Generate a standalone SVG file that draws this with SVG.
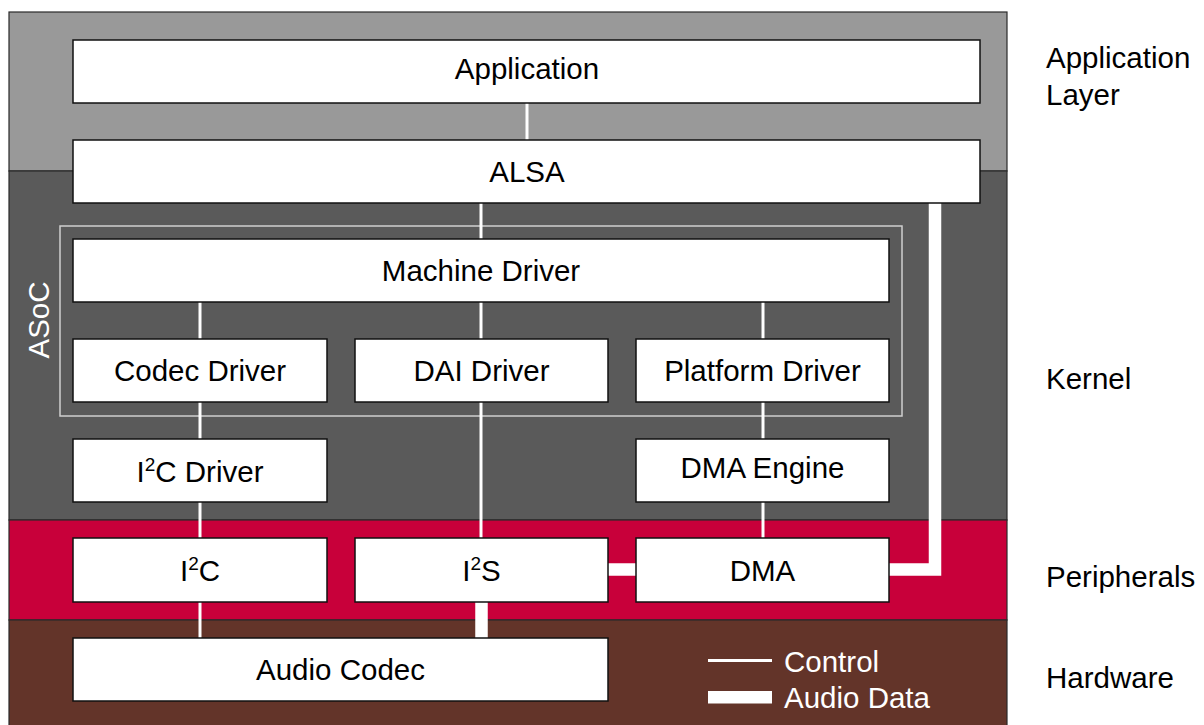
<svg xmlns="http://www.w3.org/2000/svg" width="1204" height="725" viewBox="0 0 1204 725">
<style>
.band{stroke:#2a2a2a;stroke-width:1.2}
.box{fill:#fff;stroke:#111;stroke-width:1.5}
.t{font-family:"Liberation Sans",Arial,sans-serif;font-size:29.5px;fill:#000;text-anchor:middle}
.lbl{font-family:"Liberation Sans",Arial,sans-serif;font-size:29.5px;fill:#000}
.ctl{stroke:#fff;stroke-width:3;fill:none}
.aud{stroke:#fff;stroke-width:12.5;fill:none}
.sup{font-size:19px}
</style>
<rect width="1204" height="725" fill="#fff"/>
<g id="layers">
<rect class="band" x="9" y="12" width="998" height="159" fill="#999999"/>
<rect class="band" x="9" y="171" width="998" height="349" fill="#5a5a5a"/>
<rect class="band" x="9" y="520" width="998" height="100" fill="#c8003a"/>
<rect class="band" x="9" y="620" width="998" height="110" fill="#633429"/>
</g>
<g id="asoc">
<rect x="60" y="226" width="842" height="190" fill="none" stroke="#cfcfcf" stroke-width="1.5"/>
<text class="lbl" transform="translate(49,320) rotate(-90)" text-anchor="middle" style="fill:#fff">ASoC</text>
</g>
<g id="connectors">
<line class="ctl" x1="527" y1="103" x2="527" y2="140"/>
<line class="ctl" x1="481" y1="203" x2="481" y2="239"/>
<line class="ctl" x1="200" y1="302" x2="200" y2="339"/>
<line class="ctl" x1="481" y1="302" x2="481" y2="339"/>
<line class="ctl" x1="763" y1="302" x2="763" y2="339"/>
<line class="ctl" x1="200" y1="402" x2="200" y2="439"/>
<line class="ctl" x1="200" y1="502" x2="200" y2="538"/>
<line class="ctl" x1="200" y1="602" x2="200" y2="638"/>
<line class="ctl" x1="481" y1="402" x2="481" y2="538"/>
<line class="ctl" x1="763" y1="402" x2="763" y2="439"/>
<line class="ctl" x1="763" y1="502" x2="763" y2="538"/>
<line class="aud" x1="481.5" y1="602" x2="481.5" y2="638"/>
<line class="aud" x1="608" y1="569.5" x2="636" y2="569.5"/>
<path class="aud" d="M889,569.5 H935 V203" stroke-linejoin="miter"/>
</g>
<g id="application"><rect class="box" x="73" y="40" width="907" height="63"/><text class="t" x="527" y="79">Application</text></g>
<g id="alsa"><rect class="box" x="73" y="140" width="907" height="63"/><text class="t" x="527" y="182">ALSA</text></g>
<g id="machine-driver"><rect class="box" x="73" y="239" width="816" height="63"/><text class="t" x="481" y="281">Machine Driver</text></g>
<g id="codec-driver"><rect class="box" x="73" y="339" width="254" height="63"/><text class="t" x="200" y="381">Codec Driver</text></g>
<g id="dai-driver"><rect class="box" x="355" y="339" width="253" height="63"/><text class="t" x="481.5" y="381">DAI Driver</text></g>
<g id="platform-driver"><rect class="box" x="636" y="339" width="253" height="63"/><text class="t" x="762.5" y="381">Platform Driver</text></g>
<g id="i2c-driver"><rect class="box" x="73" y="439" width="254" height="63"/><text class="t" x="200" y="482">I<tspan class="sup" dy="-11">2</tspan><tspan dy="11">C Driver</tspan></text></g>
<g id="dma-engine"><rect class="box" x="636" y="439" width="253" height="63"/><text class="t" x="762.5" y="478">DMA Engine</text></g>
<g id="i2c"><rect class="box" x="73" y="538" width="254" height="64"/><text class="t" x="200" y="581">I<tspan class="sup" dy="-11">2</tspan><tspan dy="11">C</tspan></text></g>
<g id="i2s"><rect class="box" x="355" y="538" width="253" height="64"/><text class="t" x="481.5" y="581">I<tspan class="sup" dy="-11">2</tspan><tspan dy="11">S</tspan></text></g>
<g id="dma"><rect class="box" x="636" y="538" width="253" height="64"/><text class="t" x="762.5" y="581">DMA</text></g>
<g id="audio-codec"><rect class="box" x="73" y="638" width="535" height="63"/><text class="t" x="340.5" y="680">Audio Codec</text></g>
<g id="legend">
<line class="ctl" x1="708" y1="660.5" x2="772" y2="660.5"/>
<rect x="708" y="691" width="64" height="12.5" fill="#fff"/>
<text class="lbl" x="784" y="672" style="fill:#fff">Control</text>
<text class="lbl" x="784" y="708" style="fill:#fff">Audio Data</text>
</g>
<g id="layer-labels">
<text class="lbl" x="1046" y="68">Application</text>
<text class="lbl" x="1046" y="105">Layer</text>
<text class="lbl" x="1046" y="389">Kernel</text>
<text class="lbl" x="1046" y="587">Peripherals</text>
<text class="lbl" x="1046" y="688">Hardware</text>
</g>
</svg>
